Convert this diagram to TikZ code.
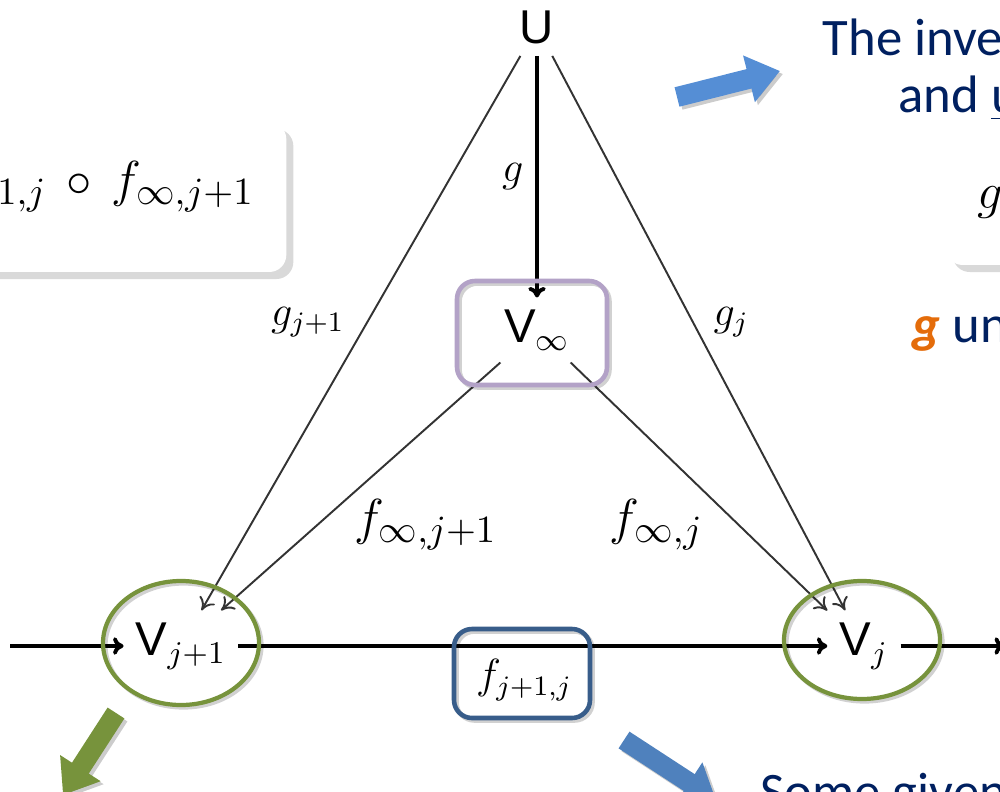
\documentclass[tikz,border=0pt]{standalone}
\usepackage{fontspec}
\usetikzlibrary{arrows.meta, positioning, shapes.geometric, shadows}
\newfontfamily\slidefont{Carlito}
\newfontfamily\labelfont{Liberation Sans}
\definecolor{SlideNavy}{HTML}{002060}
\definecolor{SlideOrange}{HTML}{E46C0A}
\definecolor{RingGreen}{HTML}{77933C}
\definecolor{BoxLilac}{HTML}{B3A2C7}
\definecolor{BoxBlue}{HTML}{385D8A}
\definecolor{PointBlue}{HTML}{558ED5}
\definecolor{PointBlueDark}{HTML}{4F81BD}

\begin{document}
\begin{tikzpicture}[
      vlabel/.style={font=\labelfont\fontsize{13.5}{16}\selectfont},
      elabel/.style={font=\fontsize{12}{14}\selectfont},
      biglabel/.style={font=\fontsize{15}{18}\selectfont},
      link/.style={draw=black!80, line width=0.55pt, -{To[length=3.5pt,width=5pt]}},
      mainline/.style={draw=black, line width=1.1pt, -{To[length=3pt,width=5pt]}},
      soft/.style={preaction={draw=black, opacity=0.18, transform canvas={shift={(0.025,-0.025)}}}},
      ring/.style={ellipse, draw=RingGreen, line width=1.2pt, soft},
      hilite/.style={rectangle, rounded corners=0.18cm, line width=1.3pt, soft},
      card/.style={rectangle, rounded corners=0.17cm, fill=white, drop shadow={opacity=0.3, shadow xshift=2pt, shadow yshift=-2pt}},
      slide/.style={font=\slidefont\fontsize{15}{18}\selectfont, text=SlideNavy, anchor=base west, inner sep=0pt},
      pointer/.style={line width=0.2cm, -{Triangle[length=0.32cm,width=0.46cm]}},
      pshadow/.style={pointer, draw=black, opacity=0.2, transform canvas={shift={(0.03,-0.03)}}}
  ]
      \useasboundingbox (0,0) rectangle (10,-7.92);
      \clip (0,0) rectangle (10,-7.92);

      % Objects of the diagram
      \node[vlabel] (U) at (5.37,-0.27) {U};
      \node[vlabel] (Vinf) at (5.37,-3.30) {V$_\infty$};
      \node[vlabel] (Vj1) at (1.81,-6.46) {V$_{j+1}$};
      \node[vlabel] (Vj) at (8.64,-6.46) {V$_{j}$};
      \coordinate (lin) at (0.10,-6.46);
      \coordinate (lout) at (10.05,-6.46);

      % Maps
      \draw[mainline] (lin) -- (Vj1);
      \draw[mainline] (Vj1) -- node[below, elabel, pos=0.485] (fjj) {$f_{j+1,j}$} (Vj);
      \draw[mainline] (Vj) -- (lout);
      \draw[mainline] (U) -- node[left, elabel] (gl) {$g$} (Vinf);
      \draw[link] (U) -- node[left, elabel, pos=0.48, xshift=-0.1cm] (gj1) {$g_{j+1}$} (Vj1);
      \draw[link] (U) -- node[right, elabel, pos=0.48, xshift=0.08cm] (gj) {$g_j$} (Vj);
      \draw[link] (Vinf) -- node[below right, biglabel, xshift=-0.19cm] (finfj1) {$f_{\infty,j+1}$} (Vj1);
      \draw[link] (Vinf) -- node[below left, biglabel, xshift=0.17cm] (finfj) {$f_{\infty,j}$} (Vj);

      % Highlights
      \node[ring, minimum width=1.56cm, minimum height=1.24cm] (ringj1) at (1.81,-6.43) {};
      \node[ring, minimum width=1.56cm, minimum height=1.18cm] (ringj) at (8.62,-6.40) {};
      \node[hilite, draw=BoxLilac, minimum width=1.5cm, minimum height=1.04cm] (boxinf) at (5.32,-3.33) {};
      \node[hilite, draw=BoxBlue, minimum width=1.36cm, minimum height=0.89cm] (boxjj) at (5.22,-6.735) {};

      % Cards
      \node[card, biglabel, anchor=east, minimum height=1.5cm, inner xsep=0.32cm, text height=0.35cm, text depth=0.35cm] (comp) at (2.87,-1.97) {$f_{j+1,j}\,\circ\,f_{\infty,j+1}$};
      \node[card, biglabel, anchor=west, minimum height=1.12cm, text width=2cm, align=left, inner xsep=0.32cm, text height=0.35cm, text depth=0.35cm] (gcard) at (9.45,-2.09) {$g$};

      % Slide text
      \node[slide] (t1) at (8.22,-0.56) {The inverse limit};
      \node[slide] (t2) at (8.98,-1.13) {and \underline{universal}};
      \node[slide] (t3) at (9.12,-3.43) {\textcolor{SlideOrange}{\textbf{\textit{g}}} uniquely};
      \node[slide] (t4) at (7.60,-8.09) {Some given};

      % Pointers
      \coordinate (pa1) at (6.77,-0.97); \coordinate (pa2) at (7.80,-0.71);
      \coordinate (pb1) at (6.24,-7.40); \coordinate (pb2) at (7.16,-8.00);
      \coordinate (pc1) at (1.16,-7.13); \coordinate (pc2) at (0.63,-7.95);
      \draw[pshadow] (pa1) -- (pa2);
      \draw[pshadow] (pb1) -- (pb2);
      \draw[pshadow] (pc1) -- (pc2);
      \draw[pointer, draw=PointBlue] (pa1) -- (pa2);
      \draw[pointer, draw=PointBlueDark] (pb1) -- (pb2);
      \draw[pointer, draw=RingGreen] (pc1) -- (pc2);
  \end{tikzpicture}
\end{document}
